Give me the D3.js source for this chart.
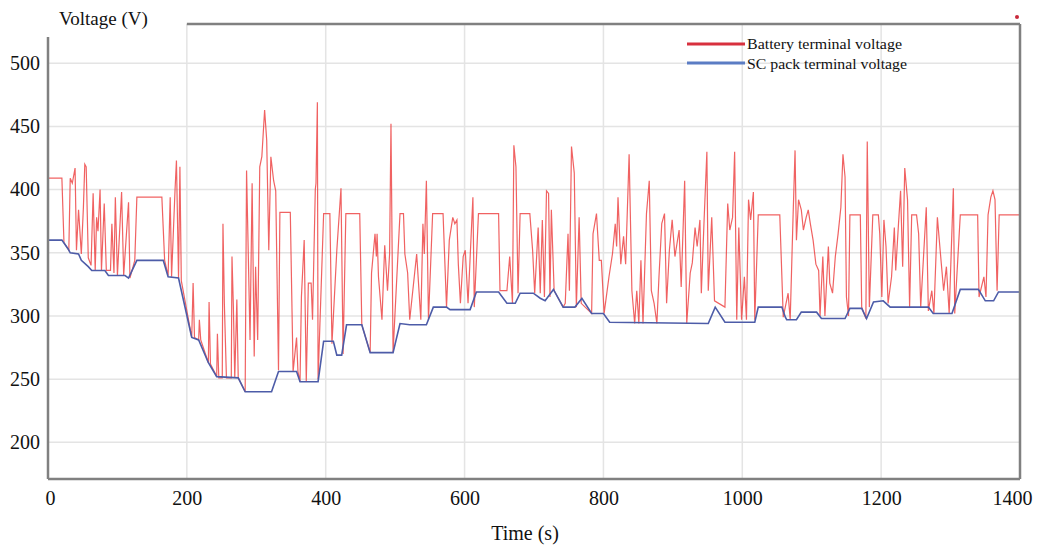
<!DOCTYPE html>
<html>
<head>
<meta charset="utf-8">
<script src="https://cdn.jsdelivr.net/npm/d3@7"></script>
<style>
  body { margin: 0; background: #fff; }
  text { font-family: "Liberation Serif", "Times New Roman", serif; fill: #111; }
</style>
</head>
<body>
<div id="chart"></div>
<script>
// Tick labels
var xTicks = [0, 200, 400, 600, 800, 1000, 1200, 1400];
var yTicks = [200, 250, 300, 350, 400, 450, 500];

// Series names
var seriesNames = ["Battery terminal voltage", "SC pack terminal voltage"];

// SC pack terminal voltage [time (s), voltage (V)]
var scVoltage = [
  [0,360],[20,360],[29,353],[32,350],[44,349],[48,344],[58,339],[63,336],[82,336],[87,332],
  [111,332],[116,330],[128,344],[166,344],[173,331],[188,330],[207,283],[217,281],[231,263],[243,252],
  [274,251],[284,240],[322,240],[332,256],[358,256],[363,248],[389,248],[397,280],[411,280],[416,269],
  [423,269],[430,293],[452,293],[464,271],[497,271],[507,294],[521,293],[545,293],[555,307],[574,307],
  [579,305],[608,305],[617,319],[649,319],[661,310],[673,310],[680,318],[699,318],[709,314],[716,312],
  [728,321],[742,307],[759,307],[769,314],[783,302],[800,302],[809,295],[951,294],[961,307],[975,295],
  [1018,295],[1023,307],[1057,307],[1062,299],[1064,297],[1078,297],[1085,303],[1107,303],[1114,298],[1148,298],
  [1155,306],[1172,306],[1179,298],[1189,311],[1203,312],[1213,307],[1268,307],[1275,302],[1302,302],[1314,321],
  [1340,321],[1350,312],[1362,312],[1369,319],[1400,319]
];

// Battery terminal voltage [time (s), voltage (V)]
var batteryVoltage = [
  [0,409],[20,409],[23,358],
  [30,352],[32,409],[35,405],[39,417],[41,352],
  [44,384],[48,349],[51,386],[53,420],[55,418],[58,346],
  [62,340],[65,397],[68,336],[70,378],[72,367],[75,400],[77,336],[81,389],[84,336],
  [90,336],[92,373],[95,334],[97,394],[100,332],[106,398],[109,332],[116,390],[118,330],
  [125,344],[128,394],[164,394],[168,344],
  [173,332],[176,394],[178,331],[183,400],[185,423],[188,330],[190,418],[192,328],
  [207,283],[209,326],[211,283],[217,281],[218,297],[220,281],[231,263],[232,311],[234,262],[243,252],
  [244,286],[246,251],[251,251],[252,373],[254,310],[257,251],[264,251],[265,347],[267,307],[269,251],
  [272,313],[274,251],
  [284,240],[286,415],[291,281],[294,405],[297,268],[299,339],[302,281],[305,418],[308,426],[312,463],
  [315,439],[318,352],[321,426],[325,407],[328,399],[332,257],
  [334,382],[349,382],[353,256],
  [358,283],[360,256],[363,248],[365,315],[369,360],[372,248],[375,326],[379,326],[381,297],[385,400],
  [386,405],[388,469],[389,250],
  [397,381],[406,381],[409,278],
  [416,352],[422,401],[425,270],
  [429,381],[449,381],[452,293],
  [464,271],[466,334],[471,365],[473,347],[474,365],[476,331],[481,297],[485,356],[489,320],[492,349],
  [494,452],[497,271],
  [507,381],[512,381],[514,349],[518,334],[521,297],
  [531,349],[537,297],[540,373],[542,349],[545,407],[548,297],
  [554,381],[569,381],[574,307],
  [578,360],[583,378],[586,373],[589,376],[591,341],[594,310],[598,347],[601,352],[605,310],[612,394],
  [614,307],
  [620,381],[649,381],[651,320],
  [661,320],[665,347],[669,310],[671,435],[674,418],[677,318],
  [680,381],[694,381],[698,352],[701,318],[706,370],
  [709,318],[712,376],[715,315],[718,399],[721,397],[723,315],[725,384],[729,320],
  [742,307],[745,310],[749,365],[751,320],[754,434],[758,413],[761,307],[765,378],[768,310],
  [783,302],[785,365],[790,381],[794,344],[797,344],[801,302],
  [808,331],[813,349],[817,373],[819,355],[821,394],[825,341],[829,363],[832,341],[837,428],[841,320],
  [845,294],[848,320],[851,294],[854,344],[857,294],
  [862,381],[866,407],[869,320],[873,310],[877,294],[880,331],[884,373],[888,381],[891,310],[895,352],
  [899,376],[903,347],[909,368],[912,323],[917,407],[920,294],
  [925,334],[928,342],[932,370],[935,355],[939,376],[941,318],[945,376],[949,430],[951,320],[956,378],
  [960,312],
  [975,307],[979,389],[982,368],[986,378],[989,430],[992,297],[995,370],[999,297],[1003,331],[1006,297],
  [1009,392],[1012,376],[1016,398],[1018,297],
  [1023,380],[1054,380],[1059,299],
  [1066,318],[1069,297],[1073,376],[1076,431],[1078,360],[1081,392],[1085,384],[1088,368],[1092,378],[1095,384],
  [1098,373],[1102,360],[1106,341],[1110,336],[1112,300],[1116,347],[1119,300],[1124,355],[1126,326],[1130,318],
  [1134,347],[1138,365],[1142,386],[1145,428],[1148,410],[1150,315],[1153,300],
  [1155,380],[1170,380],[1172,307],
  [1178,298],[1180,438],[1183,307],
  [1188,380],[1196,380],[1198,365],[1201,315],[1204,376],[1207,355],[1210,310],[1215,331],[1219,370],[1221,336],
  [1225,373],[1228,399],[1231,339],[1234,417],[1238,392],[1241,307],
  [1244,380],[1251,380],[1254,365],[1257,307],[1265,386],[1268,304],[1273,320],[1276,302],[1281,378],[1285,352],
  [1290,320],[1294,339],[1298,302],[1304,401],[1306,302],
  [1314,380],[1339,380],[1341,315],
  [1348,331],[1351,315],[1354,380],[1358,394],[1361,399],[1364,392],[1367,320],
  [1370,380],[1400,380]
];

var serifFont = '"Liberation Serif", "Times New Roman", serif';

// Chart area
var svgWidth = 1037;
var svgHeight = 547;

var margin = {
  top: 24,
  right: 17,
  bottom: 68,
  left: 48
};

var width = svgWidth - margin.left - margin.right;
var height = svgHeight - margin.top - margin.bottom;

var svg = d3.select("#chart")
  .append("svg")
  .attr("width", svgWidth)
  .attr("height", svgHeight);

var chartGroup = svg.append("g")
  .attr("transform", `translate(${margin.left}, ${margin.top})`);

// Scales
var xScale = d3.scaleLinear()
  .domain([0, 1400])
  .range([0, width]);

var yScale = d3.scaleLinear()
  .domain([171, 531])
  .range([height, 0]);

// Gridlines
chartGroup.append("g")
  .selectAll("line")
  .data(yTicks)
  .enter()
  .append("line")
  .attr("x1", 0)
  .attr("x2", width)
  .attr("y1", d => yScale(d))
  .attr("y2", d => yScale(d))
  .attr("stroke", "#e4e4e4")
  .attr("stroke-width", 1.5);

chartGroup.append("g")
  .selectAll("line")
  .data(xTicks.slice(1, -1))
  .enter()
  .append("line")
  .attr("x1", d => xScale(d))
  .attr("x2", d => xScale(d))
  .attr("y1", 0)
  .attr("y2", height)
  .attr("stroke", "#e4e4e4")
  .attr("stroke-width", 1.5);

// Axes (labels only, no tick marks)
var bottomAxis = d3.axisBottom(xScale)
  .tickValues(xTicks)
  .tickFormat(d3.format("d"))
  .tickSize(0)
  .tickPadding(12);
var leftAxis = d3.axisLeft(yScale)
  .tickValues(yTicks)
  .tickFormat(d3.format("d"))
  .tickSize(0)
  .tickPadding(8);

var xAxisG = chartGroup.append("g")
  .attr("transform", `translate(0, ${height})`)
  .call(bottomAxis);

var yAxisG = chartGroup.append("g")
  .call(leftAxis);

[xAxisG, yAxisG].forEach(function (g) {
  g.attr("font-family", serifFont).attr("font-size", 20);
  g.select(".domain").remove();
  g.selectAll("text")
    .style("font-family", serifFont)
    .style("font-size", "20px")
    .attr("fill", "#111");
});

// last x label sits a bit left of the frame corner
xAxisG.selectAll(".tick text")
  .filter(d => d === 1400)
  .attr("dx", -8);
xAxisG.selectAll(".tick text")
  .filter(d => d === 0)
  .attr("dx", 2);

// Lines
var line = d3.line()
  .x(d => xScale(d[0]))
  .y(d => yScale(d[1]));

chartGroup.append("path")
  .datum(batteryVoltage)
  .attr("d", line)
  .attr("fill", "none")
  .attr("stroke", "#ec3b3b")
  .attr("stroke-opacity", 0.8)
  .attr("stroke-width", 1.2);

chartGroup.append("path")
  .datum(scVoltage)
  .attr("d", line)
  .attr("fill", "none")
  .attr("stroke", "#4d5ca8")
  .attr("stroke-width", 1.6);

// Frame
var frameColor = "#808080";
chartGroup.append("line")
  .attr("x1", 0).attr("x2", 0)
  .attr("y1", 13).attr("y2", height)
  .attr("stroke", frameColor).attr("stroke-width", 2.5);

chartGroup.append("line")
  .attr("x1", 0).attr("x2", width)
  .attr("y1", height).attr("y2", height)
  .attr("stroke", frameColor).attr("stroke-width", 2.5);

chartGroup.append("line")
  .attr("x1", width).attr("x2", width)
  .attr("y1", 0).attr("y2", height)
  .attr("stroke", frameColor).attr("stroke-width", 2.5);

chartGroup.append("line")
  .attr("x1", xScale(200)).attr("x2", width)
  .attr("y1", 0).attr("y2", 0)
  .attr("stroke", frameColor).attr("stroke-width", 2.5);

// small marker in the top-right corner
svg.append("circle")
  .attr("cx", 1017)
  .attr("cy", 17)
  .attr("r", 2)
  .attr("fill", "#c8283a");

// Legend
var legendColors = ["#d8303e", "#5b7cc4"];
var legendWidths = [155, 160];
var legend = svg.append("g")
  .attr("transform", "translate(687, 44)");

seriesNames.forEach(function (name, i) {
  legend.append("line")
    .attr("x1", 0).attr("x2", 58)
    .attr("y1", i * 19).attr("y2", i * 19)
    .attr("stroke", legendColors[i])
    .attr("stroke-width", 3);
  legend.append("text")
    .attr("x", 60)
    .attr("y", i * 20 + 5)
    .attr("textLength", legendWidths[i])
    .attr("lengthAdjust", "spacingAndGlyphs")
    .style("font-size", "15px")
    .text(name);
});

// Axis labels
svg.append("text")
  .attr("x", 59)
  .attr("y", 25)
  .style("font-size", "19px")
  .text("Voltage (V)");

svg.append("text")
  .attr("x", 525)
  .attr("y", 540)
  .style("font-size", "20px")
  .style("text-anchor", "middle")
  .text("Time (s)");
</script>
</body>
</html>
